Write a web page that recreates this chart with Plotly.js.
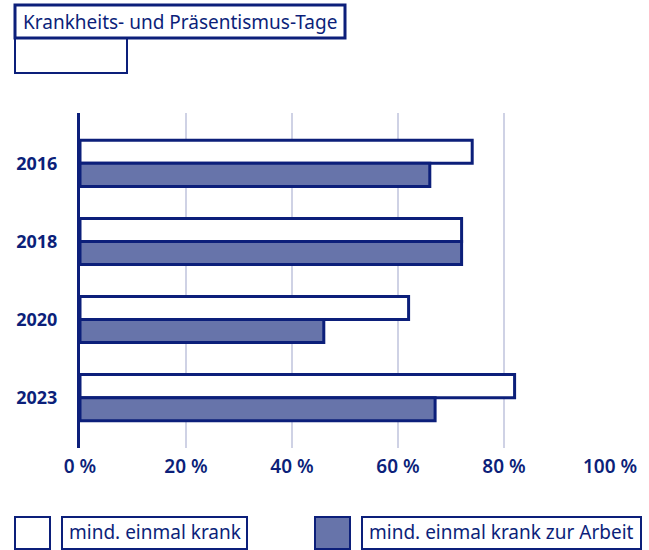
<!DOCTYPE html>
<html>
<head>
<meta charset="utf-8">
<script src="https://cdn.plot.ly/plotly-3.0.1.min.js"></script>
<style>html,body{margin:0;padding:0;background:#fff;}#chart{width:649px;height:550px;}</style>
</head>
<body>
<div id="chart"></div>
<script>
// ---- data ----
const years = ["2016", "2018", "2020", "2023"];
const seriesNames = ["mind. einmal krank", "mind. einmal krank zur Arbeit"];
const krank = [74, 72, 62, 82];
const krankArbeit = [66, 72, 46, 67];
const xTickVals = [0, 20, 40, 60, 80, 100];
const xTickText = ["0 %", "20 %", "40 %", "60 %", "80 %", "100 %"];
const titleText = "Krankheits- und Präsentismus-Tage";

// ---- style ----
const NAVY = "#0c1f7a";
const FILL = "#6774aa";
const GRID = "#cfd2e5";
const FONT = "Noto Sans, sans-serif";

const W = 649, H = 550;
const M = {l: 80, r: 39, t: 113, b: 102};
const PW = W - M.l - M.r, PH = H - M.t - M.b;
const px = v => (v - M.l) / PW;
const py = v => (H - M.b - v) / PH;

const traces = [
  {type: "bar", orientation: "h", name: seriesNames[0], y: years, x: krank,
   marker: {color: "#ffffff", line: {color: NAVY, width: 3}}, hoverinfo: "skip"},
  {type: "bar", orientation: "h", name: seriesNames[1], y: years, x: krankArbeit,
   marker: {color: FILL, line: {color: NAVY, width: 3}}, hoverinfo: "skip"}
];

const shapes = [];
const annotations = [];
function rect(x0, y0, x1, y1, fill, w) {
  shapes.push({type: "rect", xref: "paper", yref: "paper",
    x0: px(x0), x1: px(x1), y0: py(y0), y1: py(y1),
    line: {color: NAVY, width: w || 2}, fillcolor: fill || "rgba(0,0,0,0)"});
}
// empty subtitle box, then title box on top
shapes.push({type: "path", xref: "paper", yref: "paper",
  path: `M ${px(15)},${py(38)} L ${px(15)},${py(73)} L ${px(127)},${py(73)} L ${px(127)},${py(38)}`,
  line: {color: NAVY, width: 2}});
rect(15, 5, 345, 38, null, 3);
annotations.push({xref: "paper", yref: "paper", x: px(21), y: py(22), xanchor: "left", yanchor: "middle",
  text: titleText, showarrow: false, font: {family: FONT, size: 19, color: NAVY}});

// custom legend
rect(15, 517, 50, 549, "#ffffff");
rect(62, 517, 247, 549);
rect(315, 517, 350, 549, FILL);
rect(362, 517, 641, 549);
annotations.push({xref: "paper", yref: "paper", x: px(67), y: py(532), xanchor: "left", yanchor: "middle",
  text: seriesNames[0], showarrow: false, font: {family: FONT, size: 19, color: NAVY}});
annotations.push({xref: "paper", yref: "paper", x: px(367), y: py(532), xanchor: "left", yanchor: "middle",
  text: seriesNames[1], showarrow: false, font: {family: FONT, size: 19, color: NAVY}});

const layout = {
  width: W, height: H,
  margin: M,
  paper_bgcolor: "#fff", plot_bgcolor: "#fff",
  showlegend: false,
  barmode: "group", bargap: 0.41, bargroupgap: 0,
  font: {family: FONT, color: NAVY},
  xaxis: {range: [0, 100], tickvals: xTickVals, ticktext: xTickText,
    showgrid: true, gridcolor: GRID, gridwidth: 2, zeroline: false, showline: false,
    ticks: "", ticklabelstandoff: 5,
    tickfont: {family: FONT, size: 19, color: NAVY, weight: 600}},
  yaxis: {type: "category", range: [3.645, -0.645],
    showline: true, linecolor: NAVY, linewidth: 3, showgrid: false, zeroline: false,
    ticks: "", ticklabelstandoff: 16,
    tickfont: {family: FONT, size: 18, color: NAVY, weight: "bold"}},
  shapes: shapes,
  annotations: annotations
};

Plotly.newPlot("chart", traces, layout, {displayModeBar: false, staticPlot: true});
</script>
</body>
</html>
